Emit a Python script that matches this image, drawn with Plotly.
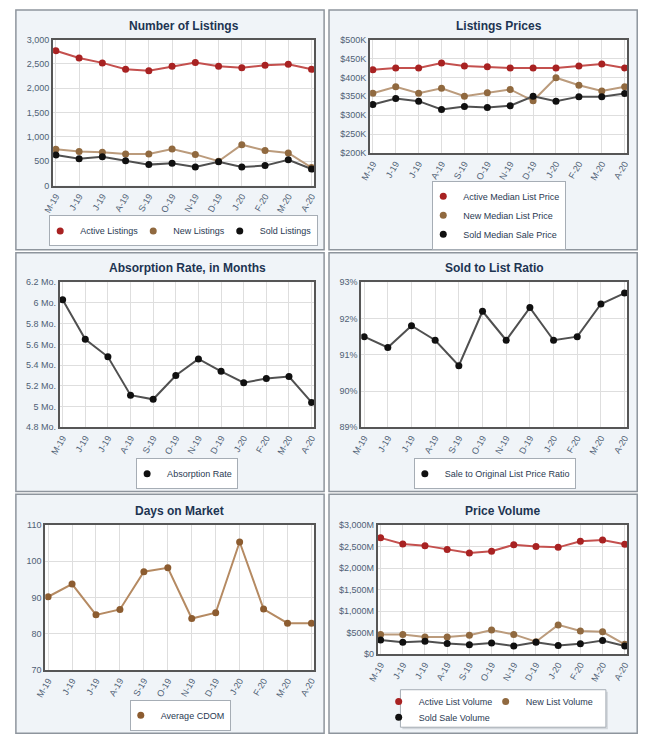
import plotly.graph_objects as go

# ---------------- data ----------------
months = ["M-19", "J-19", "J-19", "A-19", "S-19", "O-19", "N-19", "D-19", "J-20", "F-20", "M-20", "A-20"]
idx = list(range(len(months)))

active_listings = [2770, 2620, 2520, 2390, 2360, 2450, 2530, 2450, 2420, 2470, 2490, 2390]
new_listings = [745, 700, 684, 650, 650, 750, 640, 500, 840, 720, 670, 370]
sold_listings = [630, 550, 590, 510, 430, 460, 380, 490, 380, 410, 530, 340]

active_price_k = [420, 425, 425, 438, 430, 428, 425, 425, 425, 430, 435, 425]
new_price_k = [358, 375, 358, 371, 350, 359, 368, 338, 399, 379, 364, 375]
sold_price_k = [328, 344, 337, 315, 323, 320, 325, 350, 337, 349, 349, 357]

absorption = [6.03, 5.65, 5.48, 5.11, 5.07, 5.30, 5.46, 5.34, 5.23, 5.27, 5.29, 5.04]
sale_ratio = [91.5, 91.2, 91.8, 91.4, 90.7, 92.2, 91.4, 92.3, 91.4, 91.5, 92.4, 92.7]
avg_cdom = [90.2, 93.7, 85.2, 86.7, 97.1, 98.2, 84.2, 85.8, 105.3, 86.8, 82.9, 82.9]

active_volume_m = [2700, 2560, 2520, 2430, 2350, 2390, 2540, 2500, 2480, 2620, 2650, 2550]
new_volume_m = [460, 460, 400, 400, 440, 560, 460, 290, 680, 540, 520, 230]
sold_volume_m = [330, 280, 300, 250, 220, 260, 190, 280, 200, 240, 320, 190]

listings_ticks = [0, 500, 1000, 1500, 2000, 2500, 3000]
listings_labels = ["0", "500", "1,000", "1,500", "2,000", "2,500", "3,000"]
price_ticks = [200, 250, 300, 350, 400, 450, 500]
price_labels = ["$200K", "$250K", "$300K", "$350K", "$400K", "$450K", "$500K"]
absorption_ticks = [4.8, 5.0, 5.2, 5.4, 5.6, 5.8, 6.0, 6.2]
absorption_labels = ["4.8 Mo.", "5 Mo.", "5.2 Mo.", "5.4 Mo.", "5.6 Mo.", "5.8 Mo.", "6 Mo.", "6.2 Mo."]
ratio_ticks = [89, 90, 91, 92, 93]
ratio_labels = ["89%", "90%", "91%", "92%", "93%"]
cdom_ticks = [70, 80, 90, 100, 110]
cdom_labels = ["70", "80", "90", "100", "110"]
volume_ticks = [0, 500, 1000, 1500, 2000, 2500, 3000]
volume_labels = ["$0", "$500M", "$1,000M", "$1,500M", "$2,000M", "$2,500M", "$3,000M"]

# ---------------- styling ----------------
W, H = 650, 748
FONT = "Liberation Sans, Arial, sans-serif"
TITLE_C = "#1d3452"
TICK_C = "#4f5f75"
GRID_C = "#dedede"
FRAME_C = "#565656"
PANEL_FILL = "#f0f4f8"
PANEL_LINE = "#8e959d"

RED = dict(line="#c4504e", marker="#a82222")
TAN = dict(line="#bb9b7c", marker="#90693f")
BLK = dict(line="#505050", marker="#101010")
CDOM = dict(line="#b58a62", marker="#8c5c30")


def fx(p):
    return p / W


def fy(p):
    return 1 - p / H


panels = [
    dict(box=(5, 5, 320, 248), plot=(43, 35, 310, 183), title="Number of Listings", ty=21,
         ticks=listings_ticks, labels=listings_labels, rng=(0, 3000)),
    dict(box=(325, 5, 640, 248), plot=(367, 35, 630, 150), title="Listings Prices", ty=21,
         ticks=price_ticks, labels=price_labels, rng=(200, 500)),
    dict(box=(5, 251, 320, 493), plot=(50, 281, 310, 428), title="Absorption Rate, in Months", ty=267,
         ticks=absorption_ticks, labels=absorption_labels, rng=(4.8, 6.2)),
    dict(box=(325, 251, 640, 493), plot=(358, 281, 630, 428), title="Sold to List Ratio", ty=267,
         ticks=ratio_ticks, labels=ratio_labels, rng=(89, 93)),
    dict(box=(5, 496, 320, 738), plot=(35, 527, 310, 674), title="Days on Market", ty=513,
         ticks=cdom_ticks, labels=cdom_labels, rng=(70, 110)),
    dict(box=(325, 496, 640, 738), plot=(375, 527, 630, 658), title="Price Volume", ty=513,
         ticks=volume_ticks, labels=volume_labels, rng=(0, 3000)),
]

series = [
    (1, "Active Listings", active_listings, RED, "legend"),
    (1, "New Listings", new_listings, TAN, "legend"),
    (1, "Sold Listings", sold_listings, BLK, "legend"),
    (2, "Active Median List Price", active_price_k, RED, "legend2"),
    (2, "New Median List Price", new_price_k, TAN, "legend2"),
    (2, "Sold Median Sale Price", sold_price_k, BLK, "legend2"),
    (3, "Absorption Rate", absorption, BLK, "legend3"),
    (4, "Sale to Original List Price Ratio", sale_ratio, BLK, "legend4"),
    (5, "Average CDOM", avg_cdom, CDOM, "legend5"),
    (6, "Active List Volume", active_volume_m, RED, "legend6"),
    (6, "New List Volume", new_volume_m, TAN, "legend6"),
    (6, "Sold Sale Volume", sold_volume_m, BLK, "legend7"),
]

fig = go.Figure()

for k, name, vals, col, lg in series:
    sfx = "" if k == 1 else str(k)
    fig.add_trace(go.Scatter(x=idx, y=vals, mode="lines", name=name, showlegend=False,
                             line=dict(color=col["line"], width=2),
                             xaxis="x" + sfx, yaxis="y" + sfx, hoverinfo="skip"))
for k, name, vals, col, lg in series:
    sfx = "" if k == 1 else str(k)
    fig.add_trace(go.Scatter(x=idx, y=vals, mode="markers", name=name, legend=lg,
                             marker=dict(color=col["marker"], size=7),
                             xaxis="x" + sfx, yaxis="y" + sfx))

shapes = []
annotations = []
layout = {}
for i, p in enumerate(panels, start=1):
    sfx = "" if i == 1 else str(i)
    l, t, r, b = p["plot"]
    bl, bt, br, bb = p["box"]
    shapes.append(dict(type="rect", xref="paper", yref="paper", layer="below",
                       x0=fx(bl), x1=fx(br), y0=fy(bb), y1=fy(bt),
                       fillcolor=PANEL_FILL, line=dict(color=PANEL_LINE, width=1.5)))
    shapes.append(dict(type="rect", xref="x" + sfx + " domain", yref="y" + sfx + " domain", layer="below",
                       x0=0, x1=1, y0=0, y1=1, fillcolor="white", line=dict(width=0)))
    annotations.append(dict(text="<b>" + p["title"] + "</b>", xref="paper", yref="paper",
                            x=fx((l + r) / 2), y=fy(p["ty"]), xanchor="center", yanchor="middle",
                            showarrow=False, font=dict(family=FONT, size=12, color=TITLE_C)))
    layout["xaxis" + sfx] = dict(domain=[fx(l), fx(r)], anchor="y" + sfx, range=[-0.12, 11.12],
                                 tickmode="array", tickvals=idx, ticktext=months, tickangle=-60,
                                 tickfont=dict(family=FONT, size=9, color=TICK_C),
                                 showgrid=True, gridcolor=GRID_C, gridwidth=1, zeroline=False,
                                 showline=True, mirror=True, linecolor=FRAME_C, linewidth=2,
                                 ticks="", fixedrange=True)
    layout["yaxis" + sfx] = dict(domain=[fy(b), fy(t)], anchor="x" + sfx, range=list(p["rng"]),
                                 tickmode="array", tickvals=p["ticks"], ticktext=p["labels"],
                                 tickfont=dict(family=FONT, size=9, color=TICK_C),
                                 showgrid=True, gridcolor=GRID_C, gridwidth=1, zeroline=False,
                                 showline=True, mirror=True, linecolor=FRAME_C, linewidth=2,
                                 ticks="", fixedrange=True)

# legend box for the two-row legend of the Price Volume panel
shapes.append(dict(type="rect", xref="paper", yref="paper", layer="below",
                   x0=fx(400), x1=fx(610), y0=fy(734), y1=fy(696),
                   fillcolor="#d3d7dc", line=dict(width=0)))
shapes.append(dict(type="rect", xref="paper", yref="paper", layer="below",
                   x0=fx(398), x1=fx(608), y0=fy(732), y1=fy(694),
                   fillcolor="white", line=dict(color="#a6adb5", width=1)))

LEG_FONT = dict(family=FONT, size=9, color="#2a3a52")


def boxed_legend(cx, cy, orient):
    return dict(x=fx(cx), y=fy(cy), xanchor="center", yanchor="middle", orientation=orient,
                bgcolor="white", bordercolor="#a6adb5", borderwidth=1, font=LEG_FONT,
                indentation=-10)


layout["legend"] = boxed_legend(176.5, 229, "h")
layout["legend2"] = boxed_legend(499, 213, "v")
layout["legend3"] = boxed_legend(180, 475, "h")
layout["legend4"] = boxed_legend(494.5, 475, "h")
layout["legend5"] = boxed_legend(173, 720, "h")
layout["legend6"] = dict(x=fx(386), y=fy(706), xanchor="left", yanchor="middle", orientation="h",
                         bgcolor="rgba(0,0,0,0)", borderwidth=0, font=LEG_FONT, indentation=-10,
                         entrywidth=72)
layout["legend7"] = dict(x=fx(386), y=fy(722), xanchor="left", yanchor="middle", orientation="h",
                         bgcolor="rgba(0,0,0,0)", borderwidth=0, font=LEG_FONT, indentation=-10)

fig.update_layout(width=W, height=H, margin=dict(l=0, r=0, t=0, b=0),
                  paper_bgcolor="white", plot_bgcolor="white",
                  shapes=shapes, annotations=annotations, showlegend=True,
                  font=dict(family=FONT), **layout)

fig.write_html("out.html", config={"displayModeBar": False},
               post_script="document.body.style.margin='0';document.body.style.overflow='hidden';")
